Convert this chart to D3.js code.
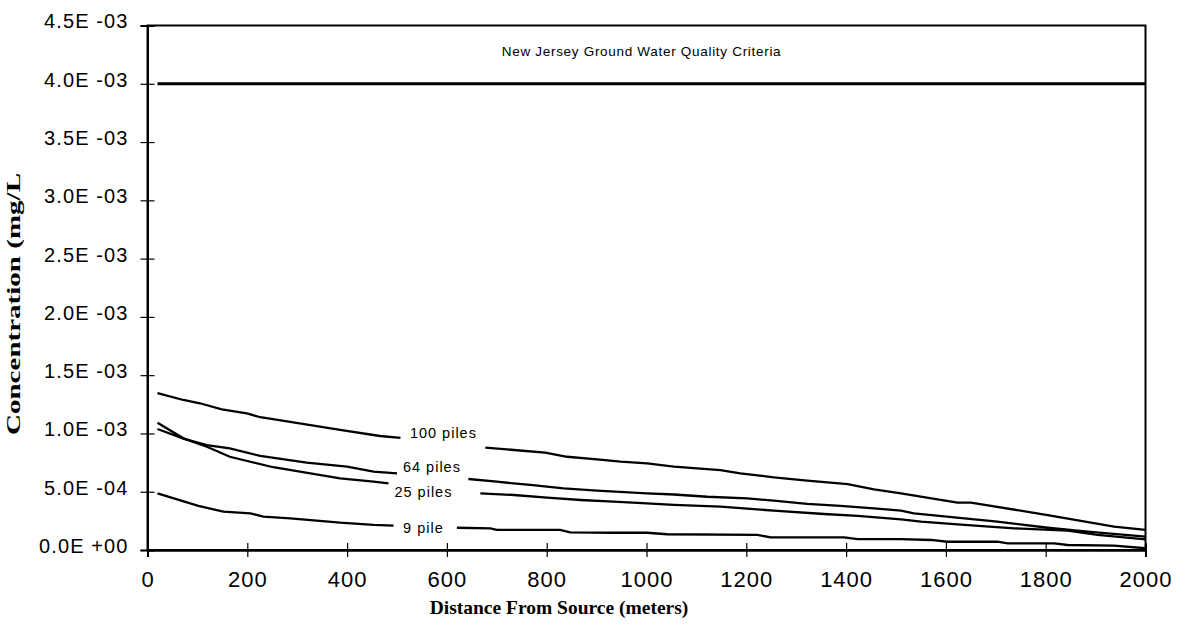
<!DOCTYPE html>
<html>
<head>
<meta charset="utf-8">
<script src="https://cdn.jsdelivr.net/npm/d3@7"></script>
<style>
  body { margin: 0; background: #fff; }
  svg { display: block; }
</style>
</head>
<body>
<svg class="viz"></svg>
<script>
var width = 1187,
  height = 638;

// x ticks (meters) and y ticks (mg/L)
var xTicks = [0, 200, 400, 600, 800, 1000, 1200, 1400, 1600, 1800, 2000];
var yTicks = [0, 0.0005, 0.001, 0.0015, 0.002, 0.0025, 0.003, 0.0035, 0.004, 0.0045];
var yTickLabels = ["0.0E +00", "5.0E -04", "1.0E -03", "1.5E -03", "2.0E -03",
  "2.5E -03", "3.0E -03", "3.5E -03", "4.0E -03", "4.5E -03"];

// criteria
var criteriaValue = 0.004;
var criteriaStart = 20;
var criteriaText = "New Jersey Ground Water Quality Criteria";

// series, values in 1E-03 mg/L, null = gap where the label sits
var dist100 = [20, 72, 105, 149, 199, 226, 286, 386, 466, 507, 560, 677, 734, 797, 841, 901, 948, 1001, 1055, 1148, 1188, 1255, 1322, 1403, 1456, 1510, 1623, 1650, 1804, 1937, 2000];
var conc100 = [1.345, 1.287, 1.259, 1.207, 1.172, 1.139, 1.100, 1.030, 0.978, 0.962, null, 0.878, 0.858, 0.835, 0.800, 0.778, 0.758, 0.744, 0.715, 0.686, 0.658, 0.624, 0.595, 0.566, 0.520, 0.486, 0.406, 0.406, 0.300, 0.200, 0.172];

var dist64 = [20, 72, 119, 165, 226, 319, 400, 453, 500, 560, 643, 700, 767, 834, 901, 1001, 1055, 1122, 1202, 1255, 1322, 1389, 1456, 1510, 1536, 1637, 1703, 1804, 1884, 2000];
var conc64 = [1.038, 0.955, 0.900, 0.872, 0.807, 0.749, 0.715, 0.672, 0.658, null, 0.609, 0.586, 0.558, 0.529, 0.509, 0.486, 0.476, 0.457, 0.443, 0.423, 0.395, 0.378, 0.358, 0.337, 0.315, 0.272, 0.243, 0.191, 0.157, 0.114];

var dist25 = [20, 72, 119, 165, 252, 386, 453, 483, 560, 667, 734, 801, 868, 934, 1001, 1055, 1148, 1222, 1255, 1356, 1423, 1510, 1550, 1637, 1737, 1844, 1904, 2000];
var conc25 = [1.092, 0.958, 0.886, 0.800, 0.710, 0.615, 0.586, 0.572, null, 0.486, 0.472, 0.449, 0.429, 0.415, 0.400, 0.388, 0.372, 0.349, 0.337, 0.309, 0.292, 0.263, 0.243, 0.215, 0.186, 0.166, 0.129, 0.092];

var dist9 = [20, 102, 152, 206, 232, 286, 386, 453, 493, 560, 620, 687, 700, 827, 847, 934, 1001, 1041, 1222, 1249, 1396, 1423, 1510, 1570, 1603, 1703, 1724, 1817, 1844, 1937, 2000];
var conc9 = [0.486, 0.378, 0.329, 0.315, 0.286, 0.272, 0.234, 0.215, 0.209, null, 0.191, 0.186, 0.172, 0.172, 0.152, 0.148, 0.148, 0.135, 0.129, 0.109, 0.109, 0.094, 0.094, 0.086, 0.071, 0.071, 0.057, 0.057, 0.043, 0.037, 0.015];

var seriesNames = ["100 piles", "64 piles", "25 piles", "9 pile"];
var seriesDist = [dist100, dist64, dist25, dist9];
var seriesConc = [conc100, conc64, conc25, conc9];
// where each label sits (meters, 1E-03 mg/L at baseline)
var labelDist = [593, 570, 553, 553];
var labelConc = [0.961, 0.669, 0.455, 0.142];

var viz = d3.select(".viz")
  .attr("width", width)
  .attr("height", height);

var x = d3.scaleLinear().domain([0, 2000]).range([147.5, 1145.5]);
var y = d3.scaleLinear().domain([0, 0.0045]).range([550, 25.5]);

// frame
viz.append("rect")
  .attr("x", x(0)).attr("y", y(0.0045))
  .attr("width", x(2000) - x(0)).attr("height", y(0) - y(0.0045))
  .attr("fill", "none").attr("stroke", "#000").attr("stroke-width", 2);

// axes (ticks cross the axis line)
var yAxis = viz.append("g")
  .attr("transform", "translate(" + x(0) + ",0)")
  .call(d3.axisLeft(y).tickValues(yTicks).tickSize(7).tickPadding(12)
    .tickFormat(function(d, i) { return yTickLabels[i]; }));
viz.append("g")
  .attr("transform", "translate(" + x(0) + ",0)")
  .call(d3.axisLeft(y).tickValues(yTicks).tickSize(-7).tickFormat(""));

var xAxis = viz.append("g")
  .attr("transform", "translate(0," + y(0) + ")")
  .call(d3.axisBottom(x).tickValues(xTicks).tickSize(7).tickPadding(14)
    .tickFormat(d3.format("d")));
viz.append("g")
  .attr("transform", "translate(0," + y(0) + ")")
  .call(d3.axisBottom(x).tickValues(xTicks).tickSize(-7).tickFormat(""));

viz.selectAll(".domain").attr("stroke", "#000").attr("stroke-width", 2);
viz.selectAll(".tick line").attr("stroke", "#000").attr("stroke-width", 1.2);

yAxis.selectAll("text")
  .attr("font-family", "Liberation Sans, Arial, sans-serif")
  .attr("font-size", 20)
  .attr("letter-spacing", 1.1)
  .attr("dy", "0.12em")
  .attr("fill", "#000");

xAxis.selectAll("text")
  .attr("font-family", "Liberation Sans, Arial, sans-serif")
  .attr("font-size", 22)
  .attr("letter-spacing", 1)
  .attr("fill", "#000");

// axis titles
viz.append("text")
  .attr("x", 559).attr("y", 614)
  .attr("text-anchor", "middle")
  .attr("font-family", "Liberation Serif, Times New Roman, serif")
  .attr("font-weight", "bold")
  .attr("font-size", 19.5)
  .text("Distance From Source (meters)");

viz.append("text")
  .attr("transform", "translate(20,304) rotate(-90)")
  .attr("text-anchor", "middle")
  .attr("font-family", "Liberation Serif, Times New Roman, serif")
  .attr("font-weight", "bold")
  .attr("font-size", 19)
  .attr("textLength", 262)
  .attr("lengthAdjust", "spacingAndGlyphs")
  .text("Concentration (mg/L");

// criteria line
viz.append("line")
  .attr("x1", x(criteriaStart)).attr("x2", x(2000))
  .attr("y1", y(criteriaValue)).attr("y2", y(criteriaValue))
  .attr("stroke", "#000").attr("stroke-width", 3);

viz.append("text")
  .attr("x", x(990)).attr("y", y(criteriaValue) - 28)
  .attr("text-anchor", "middle")
  .attr("font-family", "Liberation Sans, Arial, sans-serif")
  .attr("font-size", 13.5)
  .attr("letter-spacing", 0.7)
  .text(criteriaText);

// series lines
var line = d3.line()
  .defined(function(d) { return d[1] !== null; })
  .x(function(d) { return x(d[0]); })
  .y(function(d) { return y(d[1] / 1000); });

seriesNames.forEach(function(name, i) {
  var pts = seriesDist[i].map(function(dd, j) { return [dd, seriesConc[i][j]]; });
  viz.append("path")
    .datum(pts)
    .attr("d", line)
    .attr("fill", "none")
    .attr("stroke", "#000")
    .attr("stroke-width", 2.3);

  viz.append("text")
    .attr("x", x(labelDist[i])).attr("y", y(labelConc[i] / 1000))
    .attr("text-anchor", "middle")
    .attr("font-family", "Liberation Sans, Arial, sans-serif")
    .attr("font-size", 14.5)
    .attr("letter-spacing", 1)
    .text(name);
});
</script>
</body>
</html>
